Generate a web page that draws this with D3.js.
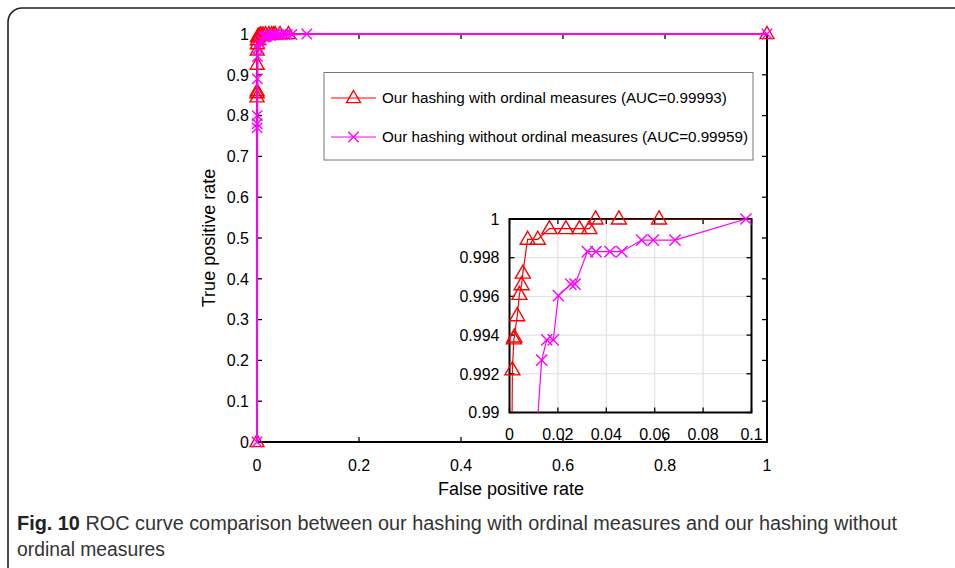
<!DOCTYPE html>
<html><head><meta charset="utf-8">
<script src="https://cdn.jsdelivr.net/npm/d3@7"></script>
<style>body{margin:0;background:#fff}svg{display:block}</style>
</head><body>
<svg id="c" width="955" height="568"></svg>
<script>
// ---- data ----
const redFPR = [0, 0.0001, 0.0002, 0.0003, 0.0004, 0.0005, 0.0006, 0.0008, 0.0012, 0.0018, 0.0020, 0.0032, 0.0041, 0.0050, 0.0055, 0.0075, 0.0117, 0.0165, 0.0233, 0.0289, 0.0330, 0.0356, 0.0452, 0.0618, 1];
const redTPR = [0, 0.845, 0.855, 0.86, 0.925, 0.96, 0.975, 0.985, 0.9922, 0.9938, 0.9939, 0.9950, 0.9961, 0.9966, 0.9972, 0.99895, 0.99895, 0.9995, 0.9995, 0.9995, 0.9995, 1, 1, 1, 1];
const magFPR = [0, 0.0002, 0.0003, 0.0004, 0.0006, 0.0010, 0.0020, 0.0050, 0.0090, 0.0133, 0.0154, 0.0181, 0.0202, 0.0253, 0.0271, 0.0322, 0.0357, 0.0415, 0.0464, 0.0546, 0.0594, 0.0684, 0.0977, 1];
const magTPR = [0, 0.77, 0.78, 0.80, 0.89, 0.945, 0.965, 0.978, 0.985, 0.99271, 0.99375, 0.99375, 0.99604, 0.99663, 0.99663, 0.99831, 0.99831, 0.99831, 0.99831, 0.99891, 0.99891, 0.99891, 1, 1];
const mainXTicks = [0, 0.2, 0.4, 0.6, 0.8, 1];
const mainYTicks = [0, 0.1, 0.2, 0.3, 0.4, 0.5, 0.6, 0.7, 0.8, 0.9, 1];
const insetXTicks = [0, 0.02, 0.04, 0.06, 0.08, 0.1];
const insetYTicks = [0.99, 0.992, 0.994, 0.996, 0.998, 1];
const legendLabels = ["Our hashing with ordinal measures (AUC=0.99993)", "Our hashing without ordinal measures (AUC=0.99959)"];
const captionBold = "Fig. 10";
const captionLine1 = " ROC curve comparison between our hashing with ordinal measures and our hashing without";
const captionLine2 = "ordinal measures";

const RED = "#ff0000", MAG = "#ff00ff";
const FONT = "'Liberation Sans', Arial, sans-serif";
const svg = d3.select("#c");

// frame
svg.append("rect").attr("x", 8).attr("y", 8).attr("width", 1100).attr("height", 700)
  .attr("rx", 14).attr("fill", "none").attr("stroke", "#222").attr("stroke-width", 1.6);

const red = redFPR.map((x, i) => [x, redTPR[i]]);
const mag = magFPR.map((x, i) => [x, magTPR[i]]);

function triPath(s) { const h = s * 0.866; return `M0,${-h*0.62}L${s/2},${h*0.38}L${-s/2},${h*0.38}Z`; }
function crossPath(s) { const a = s / 2; return `M${-a},${-a}L${a},${a}M${-a},${a}L${a},${-a}`; }

function drawAxes(g, x, y, xt, yt, fmtX, fmtY, opt) {
  const [x0, x1] = x.range(), [y0, y1] = y.range();
  if (opt.grid) {
    g.append("g").selectAll("line.gx").data(xt.slice(1, -1)).join("line")
      .attr("x1", d => x(d)).attr("x2", d => x(d)).attr("y1", y0).attr("y2", y1)
      .attr("stroke", "#dcdcdc").attr("stroke-width", 1);
    g.append("g").selectAll("line.gy").data(yt.slice(1, -1)).join("line")
      .attr("y1", d => y(d)).attr("y2", d => y(d)).attr("x1", x0).attr("x2", x1)
      .attr("stroke", "#dcdcdc").attr("stroke-width", 1);
  }
  const tl = 5;
  const ax = g.append("g").attr("stroke", "#000").attr("stroke-width", 1.3);
  xt.forEach(d => {
    ax.append("line").attr("x1", x(d)).attr("x2", x(d)).attr("y1", y0).attr("y2", y0 - tl);
    ax.append("line").attr("x1", x(d)).attr("x2", x(d)).attr("y1", y1).attr("y2", y1 + tl);
  });
  yt.forEach(d => {
    ax.append("line").attr("y1", y(d)).attr("y2", y(d)).attr("x1", x0).attr("x2", x0 + tl);
    ax.append("line").attr("y1", y(d)).attr("y2", y(d)).attr("x1", x1).attr("x2", x1 - tl);
  });
  g.append("rect").attr("x", x0).attr("y", y1).attr("width", x1 - x0).attr("height", y0 - y1)
    .attr("fill", "none").attr("stroke", "#000").attr("stroke-width", 2);
  g.append("g").selectAll("text.xl").data(xt).join("text")
    .attr("x", d => x(d)).attr("y", y0 + opt.xoff).attr("text-anchor", "middle")
    .attr("font-family", FONT).attr("font-size", opt.fs).attr("fill", "#000").text(fmtX);
  g.append("g").selectAll("text.yl").data(yt).join("text")
    .attr("x", x0 - opt.yoff).attr("y", d => y(d)).attr("dy", "0.36em").attr("text-anchor", "end")
    .attr("font-family", FONT).attr("font-size", opt.fs).attr("fill", "#000").text(fmtY);
}

function drawSeries(g, x, y, data, color, type, clipId, lw, ms) {
  const line = d3.line().x(d => x(d[0])).y(d => y(d[1]));
  g.append("path").datum(data).attr("d", line).attr("fill", "none").attr("stroke", color)
    .attr("stroke-width", lw).attr("clip-path", clipId ? `url(#${clipId})` : null);
  const [ya, yb] = y.domain(), [xa, xb] = x.domain();
  const pts = data.filter(d => d[1] >= ya - 1e-9 && d[1] <= yb + 1e-9 && d[0] >= xa && d[0] <= xb);
  g.append("g").selectAll("path").data(pts).join("path")
    .attr("transform", d => `translate(${x(d[0])},${y(d[1])})`)
    .attr("d", type === "tri" ? triPath(ms) : crossPath(ms * 0.8))
    .attr("fill", "none").attr("stroke", color).attr("stroke-width", 1.4);
}

// ---- main plot ----
const X = d3.scaleLinear().domain([0, 1]).range([257, 767]);
const Y = d3.scaleLinear().domain([0, 1]).range([442, 34]);
const main = svg.append("g");
drawAxes(main, X, Y, mainXTicks, mainYTicks, d => d3.format("~g")(d), d => d3.format("~g")(d),
  { grid: false, xoff: 29, yoff: 8, fs: 16 });
drawSeries(main, X, Y, red, RED, "tri", null, 2, 14);
drawSeries(main, X, Y, mag, MAG, "cross", null, 2, 13);

main.append("text").attr("x", 511).attr("y", 495).attr("text-anchor", "middle")
  .attr("font-family", FONT).attr("font-size", 18).text("False positive rate");
main.append("text").attr("transform", "translate(215,238) rotate(-90)").attr("text-anchor", "middle")
  .attr("font-family", FONT).attr("font-size", 18).text("True positive rate");

// ---- legend ----
const lg = svg.append("g");
lg.append("rect").attr("x", 324).attr("y", 72.5).attr("width", 429).attr("height", 87.5)
  .attr("fill", "#fff").attr("stroke", "#777").attr("stroke-width", 1);
[[RED, "tri", 98], [MAG, "cross", 137]].forEach(([c, t, yy], i) => {
  lg.append("line").attr("x1", 331).attr("x2", 376).attr("y1", yy).attr("y2", yy).attr("stroke", c).attr("stroke-width", 1.2);
  lg.append("path").attr("transform", `translate(353.5,${yy})`).attr("d", t === "tri" ? triPath(14) : crossPath(10.5))
    .attr("fill", "none").attr("stroke", c).attr("stroke-width", 1.4);
  lg.append("text").attr("x", 382).attr("y", yy).attr("dy", "0.36em").attr("font-family", FONT)
    .attr("font-size", 15.2).text(legendLabels[i]);
});

// ---- inset ----
const IX = d3.scaleLinear().domain([0, 0.1]).range([509.5, 751.5]);
const IY = d3.scaleLinear().domain([0.99, 1]).range([412.5, 219]);
const inset = svg.append("g");
inset.append("rect").attr("x", 509.5).attr("y", 219).attr("width", 242).attr("height", 193.5).attr("fill", "#fff");
svg.append("defs").append("clipPath").attr("id", "clipI").append("rect")
  .attr("x", 509.5).attr("y", 219).attr("width", 242).attr("height", 193.5);
drawAxes(inset, IX, IY, insetXTicks, insetYTicks, d => d3.format("~g")(d), d => d3.format("~g")(d),
  { grid: true, xoff: 27, yoff: 10, fs: 16 });
drawSeries(inset, IX, IY, red, RED, "tri", "clipI", 1.2, 15);
drawSeries(inset, IX, IY, mag, MAG, "cross", "clipI", 1.2, 14);

// ---- caption ----
const cap = svg.append("g").attr("font-family", FONT).attr("font-size", 20).attr("fill", "#333");
const t1 = cap.append("text").attr("x", 17).attr("y", 530)
  .attr("textLength", 880).attr("lengthAdjust", "spacingAndGlyphs");
t1.append("tspan").attr("font-weight", "bold").attr("fill", "#222").text(captionBold);
t1.append("tspan").text(captionLine1);
cap.append("text").attr("x", 17).attr("y", 556)
  .attr("textLength", 148).attr("lengthAdjust", "spacingAndGlyphs").text(captionLine2);
</script>
</body></html>
